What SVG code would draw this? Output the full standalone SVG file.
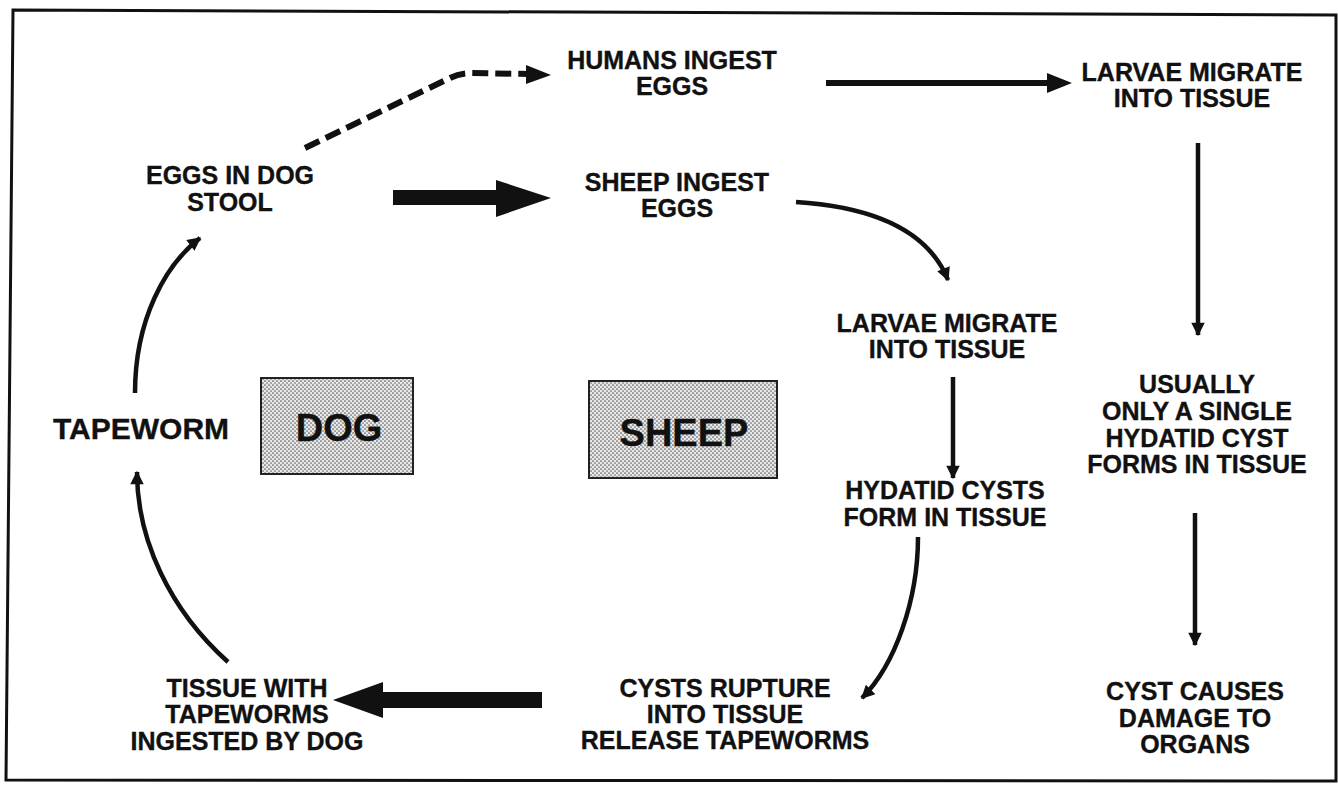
<svg xmlns="http://www.w3.org/2000/svg" width="1338" height="788" viewBox="0 0 1338 788">
<style>
.t{font-family:"Liberation Sans",Arial,sans-serif;font-weight:bold;font-size:25px;fill:#111;stroke:#111;stroke-width:0.35;text-anchor:middle}
.big{font-size:38px}
.tw{font-size:30px}
.ln{fill:none;stroke:#111;stroke-width:4.5;stroke-linecap:butt}
.hd{fill:#111}
.box{fill:url(#dots);stroke:#222;stroke-width:2}
</style>
<defs>
<pattern id="dots" width="4" height="4" patternUnits="userSpaceOnUse">
<rect width="4" height="4" fill="#e8e8e8"/>
<circle cx="1" cy="1" r="0.85" fill="#5a5a5a"/>
<circle cx="3" cy="3" r="0.85" fill="#6a6a6a"/>
</pattern>
<marker id="ah" viewBox="0 0 10 10" refX="9" refY="5" markerWidth="4.2" markerHeight="3" orient="auto" markerUnits="strokeWidth">
<path d="M0,0 L10,5 L0,10 z" fill="#111"/>
</marker>
</defs>
<rect width="1338" height="788" fill="#fff"/>
<path d="M13,10 L1336,15 L1336,781 L6,780 Z" fill="none" stroke="#111" stroke-width="3"/>

<g id="connectors">
<path class="ln" d="M305,148 L450,78 Q460,73 472,73 L530,74" style="stroke-width:6;stroke-dasharray:16,7"/>
<polygon class="hd" points="526,65 551,75 526,84"/>
<path class="ln" d="M826,83 L1050,83" style="stroke-width:6"/>
<polygon class="hd" points="1047,73 1072,83 1047,93"/>
<polygon class="hd" points="393,190 496,190 496,180 551,198 496,217 496,205 393,205"/>
<polygon class="hd" points="542,692 383,692 383,682 333,700 383,718 383,708 542,708"/>
<path class="ln" d="M796,202 Q920,210 948,280" marker-end="url(#ah)"/>
<path class="ln" d="M953,377 L953,478" marker-end="url(#ah)"/>
<path class="ln" d="M1198,143 L1198,335" marker-end="url(#ah)"/>
<path class="ln" d="M1195,513 L1195,645" marker-end="url(#ah)"/>
<path class="ln" d="M918,537 C918,600 895,665 862,698" marker-end="url(#ah)"/>
<path class="ln" d="M228,662 C170,610 137,540 137,472" marker-end="url(#ah)"/>
<path class="ln" d="M135,393 C135,320 165,265 200,238" marker-end="url(#ah)"/>
</g>

<g id="n-humans"><text class="t" x="672" y="69">HUMANS INGEST</text><text class="t" x="672" y="95">EGGS</text></g>
<g id="n-larvae-h"><text class="t" x="1192" y="81">LARVAE MIGRATE</text><text class="t" x="1192" y="107">INTO TISSUE</text></g>
<g id="n-eggs"><text class="t" x="230" y="184">EGGS IN DOG</text><text class="t" x="230" y="211">STOOL</text></g>
<g id="n-sheep-ingest"><text class="t" x="677" y="191">SHEEP INGEST</text><text class="t" x="677" y="217">EGGS</text></g>
<g id="n-larvae-s"><text class="t" x="947" y="332">LARVAE MIGRATE</text><text class="t" x="947" y="358">INTO TISSUE</text></g>
<g id="n-single"><text class="t" x="1197" y="393">USUALLY</text><text class="t" x="1197" y="420">ONLY A SINGLE</text><text class="t" x="1197" y="447">HYDATID CYST</text><text class="t" x="1197" y="473">FORMS IN TISSUE</text></g>
<g id="n-tapeworm"><text class="t tw" x="141" y="439">TAPEWORM</text></g>
<g id="n-dog"><rect class="box" x="261" y="378" width="152" height="96"/><text class="t big" x="339" y="441">DOG</text></g>
<g id="n-sheep"><rect class="box" x="589" y="381" width="188" height="97"/><text class="t big" x="684" y="446">SHEEP</text></g>
<g id="n-hydatid"><text class="t" x="945" y="499">HYDATID CYSTS</text><text class="t" x="945" y="526">FORM IN TISSUE</text></g>
<g id="n-damage"><text class="t" x="1195" y="700">CYST CAUSES</text><text class="t" x="1195" y="727">DAMAGE TO</text><text class="t" x="1195" y="753">ORGANS</text></g>
<g id="n-rupture"><text class="t" x="725" y="697">CYSTS RUPTURE</text><text class="t" x="725" y="723">INTO TISSUE</text><text class="t" x="725" y="749">RELEASE TAPEWORMS</text></g>
<g id="n-tissue"><text class="t" x="247" y="697">TISSUE WITH</text><text class="t" x="247" y="723">TAPEWORMS</text><text class="t" x="247" y="750">INGESTED BY DOG</text></g>
</svg>
